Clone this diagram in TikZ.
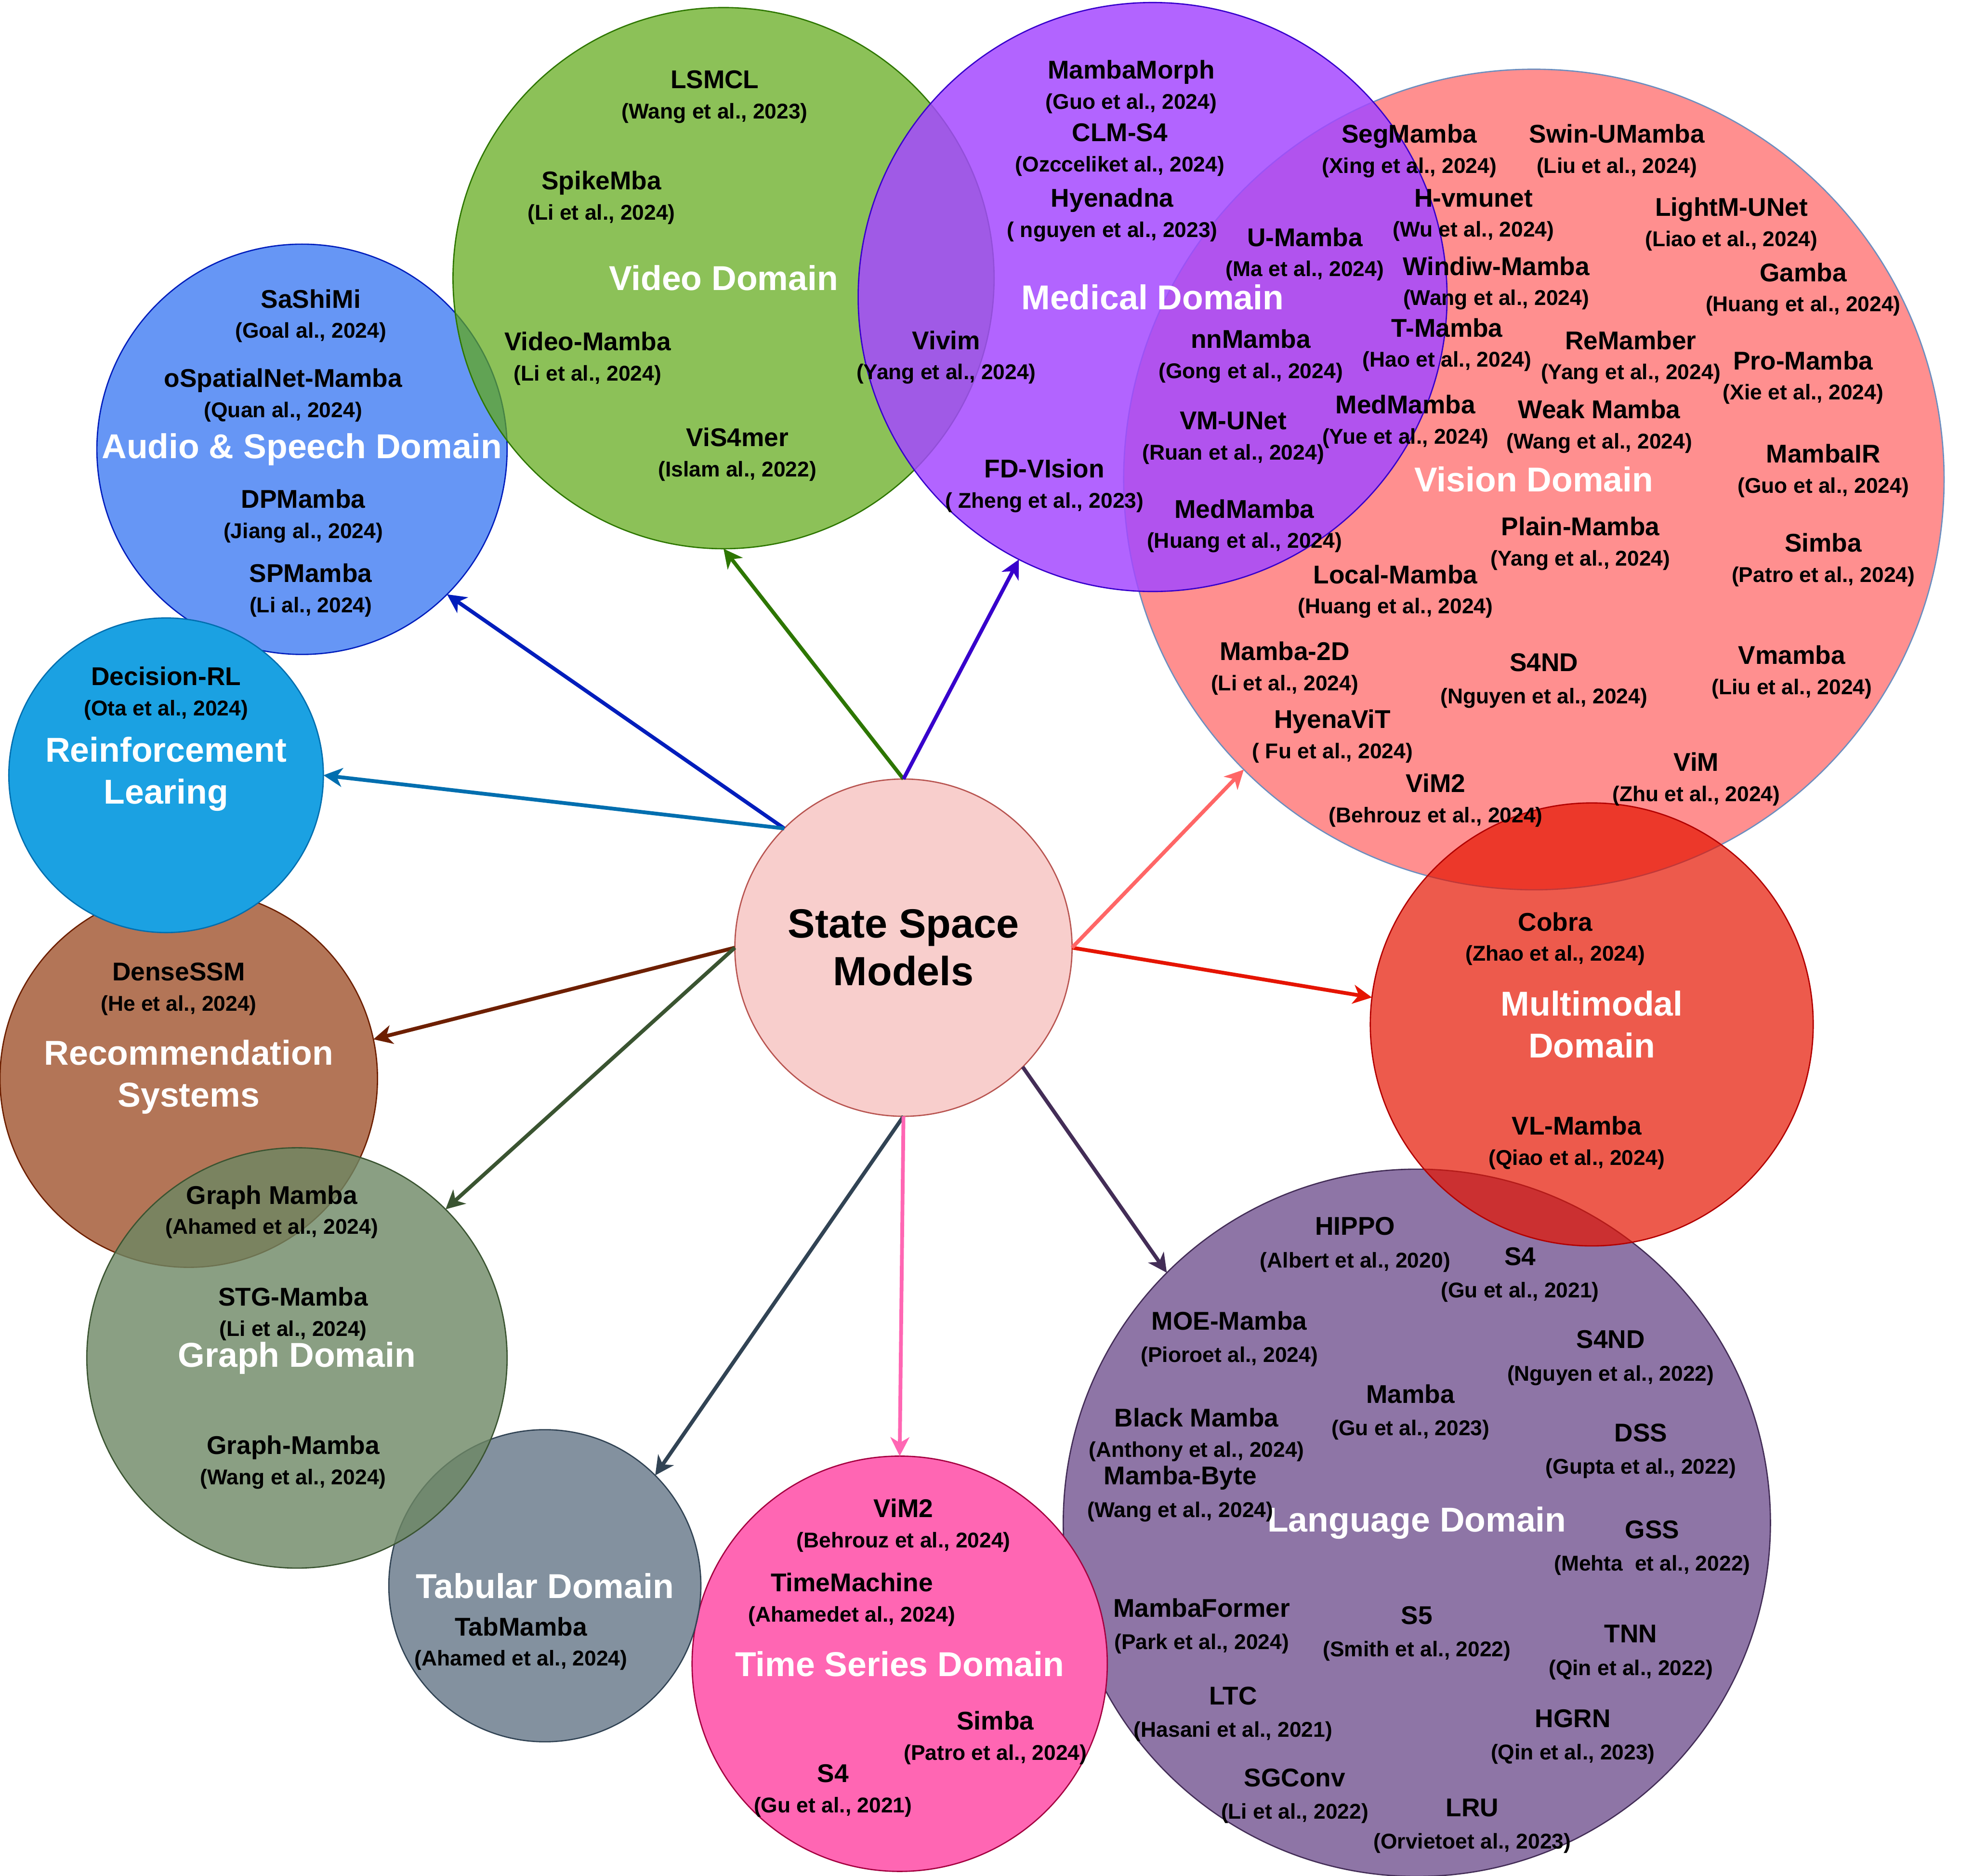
\documentclass[tikz,border=0pt]{standalone}
\usepackage{fontspec}
\setmainfont{Liberation Sans}
\usetikzlibrary{arrows.meta}
\definecolor{audiofill}{HTML}{0050EF}\definecolor{audioline}{HTML}{001DBC}
\definecolor{videofill}{HTML}{60A917}\definecolor{videoline}{HTML}{2D7600}
\definecolor{medfill}{HTML}{A449FF}\definecolor{medline}{HTML}{3700CC}
\definecolor{visfill}{HTML}{FF8F8F}\definecolor{visline}{HTML}{6C8EBF}\definecolor{visarrow}{HTML}{FF6666}
\definecolor{multifill}{HTML}{E51400}\definecolor{multiline}{HTML}{B20000}
\definecolor{langfill}{HTML}{8E75A6}\definecolor{langline}{HTML}{432D57}
\definecolor{tsfill}{HTML}{FF66B3}\definecolor{tsline}{HTML}{A50040}
\definecolor{tabfill}{HTML}{647687}\definecolor{tabline}{HTML}{314354}
\definecolor{graphfill}{HTML}{6D8764}\definecolor{graphline}{HTML}{3A5431}
\definecolor{recfill}{HTML}{A0522D}\definecolor{recline}{HTML}{6D1F00}
\definecolor{rlfill}{HTML}{1BA1E2}\definecolor{rlline}{HTML}{006EAF}
\definecolor{hubfill}{HTML}{F8CECC}\definecolor{hubline}{HTML}{B85450}
\newcommand{\ppname}{\fontsize{10.2}{12}\selectfont\bfseries}
\newcommand{\ppnamel}{\fontsize{10.2}{12.9}\selectfont\bfseries}
\newcommand{\ppcite}{\fontsize{8.5}{10}\selectfont\bfseries}
\newcommand{\domlbl}{\fontsize{13.7}{16.7}\selectfont\bfseries}
\newcommand{\hubfont}{\fontsize{16.2}{19}\selectfont\bfseries}
\newcommand{\ppitem}[2]{#1\\{\ppcite #2}}
\begin{document}
\begin{tikzpicture}[x=0.5pt, y=-0.5pt,
    dom/.style={circle, draw, line width=0.5pt, inner sep=0pt, outer sep=0pt, text=white, text opacity=1, font=\domlbl, align=center},
    ppr/.style={align=center, font=\ppname, inner sep=0pt, yshift=-1pt},
    lppr/.style={align=center, font=\ppnamel, inner sep=0pt, yshift=-1pt},
    link/.style={line width=1.5pt, -{Stealth[length=7.5pt, width=7.5pt, inset=2.2pt]}}]
    \useasboundingbox (0,0) rectangle (1568,1490.5);
    % domain circles, lowest first
    \node[dom, fill=recfill, fill opacity=0.8, draw=recline, minimum size=150pt] (rec) at (150,857) {Recommendation\\Systems\rule[-4pt]{0pt}{4pt}};
    \node[dom, fill=audiofill, fill opacity=0.6, draw=audioline, minimum size=163pt] (audio) at (240,357) {Audio \& Speech Domain};
    \node[dom, fill=rlfill, draw=rlline, minimum size=125pt] (rl) at (132,616) {Reinforcement\\Learing\rule[-4pt]{0pt}{4pt}};
    \node[dom, fill=videofill, fill opacity=0.72, draw=videoline, minimum size=215pt] (video) at (575,221) {Video Domain};
    \node[dom, fill=visfill, draw=visline, minimum size=326pt] (vision) at (1219,381) {Vision Domain};
    \node[dom, fill=medfill, fill opacity=0.85, draw=medline, minimum size=234pt] (medical) at (916,236) {Medical Domain};
    \node[dom, fill=langfill, draw=langline, minimum size=281pt] (language) at (1126,1210) {Language Domain};
    \node[dom, fill=multifill, fill opacity=0.7, draw=multiline, minimum size=176pt] (multi) at (1265,814) {Multimodal\\Domain};
    \node[dom, fill=tsfill, draw=tsline, minimum size=165pt] (tseries) at (715,1322) {Time Series Domain};
    \node[dom, fill=tabfill, fill opacity=0.8, draw=tabline, minimum size=124pt] (tabular) at (433,1260) {Tabular Domain};
    \node[dom, fill=graphfill, fill opacity=0.8, draw=graphline, minimum size=167pt] (graph) at (236,1079) {Graph Domain};
    \node[circle, draw=hubline, fill=hubfill, line width=0.5pt, inner sep=0pt, outer sep=0pt, minimum size=134pt, font=\hubfont, align=center] (ssm) at (718,753) {State Space\\Models};

    \draw[link, audioline] (ssm.135) -- (audio.-45);
    \draw[link, videoline] (ssm.north) -- (video.south);
    \draw[link, medline] (ssm.north) -- (medical.-117);
    \draw[link, rlline] (ssm.135) -- (rl.east);
    \draw[link, recline] (ssm.west) -- (rec.12);
    \draw[link, graphline] (ssm.west) -- (graph.45);
    \draw[link, tabline] (ssm.south) -- (tabular.45);
    \draw[link, tsfill] (ssm.south) -- (tseries.north);
    \draw[link, langline] (ssm.-45) -- (language.135);
    \draw[link, multifill] (ssm.east) -- (multi.173);
    \draw[link, visarrow] (ssm.east) -- (vision.225);

    % video
    \node[ppr] (v1) at (568,75) {\ppitem{LSMCL}{(Wang et al., 2023)}};
    \node[ppr] (v2) at (478,155) {\ppitem{SpikeMba}{(Li et al., 2024)}};
    \node[ppr] (v3) at (467,283) {\ppitem{Video-Mamba}{(Li et al., 2024)}};
    \node[ppr] (v4) at (586,359) {\ppitem{ViS4mer}{(Islam al., 2022)}};
    % medical
    \node[ppr] (m1) at (899,67) {\ppitem{MambaMorph}{(Guo et al., 2024)}};
    \node[ppr] (m2) at (890,117) {\ppitem{CLM-S4}{(Ozcceliket al., 2024)}};
    \node[ppr] (m3) at (884,169) {\ppitem{Hyenadna}{( nguyen et al., 2023)}};
    \node[ppr] (m4) at (752,282) {\ppitem{Vivim}{(Yang et al., 2024)}};
    \node[ppr] (m5) at (830,384) {\ppitem{FD-VIsion}{( Zheng et al., 2023)}};
    \node[ppr] (m6) at (989,416) {\ppitem{MedMamba}{(Huang et al., 2024)}};
    \node[ppr] (m7) at (1037,200) {\ppitem{U-Mamba}{(Ma et al., 2024)}};
    \node[ppr] (m8) at (994,281) {\ppitem{nnMamba}{(Gong et al., 2024)}};
    \node[ppr] (m9) at (980,346) {\ppitem{VM-UNet}{(Ruan et al., 2024)}};
    % vision
    \node[ppr] (s1) at (1120,118) {\ppitem{SegMamba}{(Xing et al., 2024)}};
    \node[ppr] (s2) at (1285,118) {\ppitem{Swin-UMamba}{(Liu et al., 2024)}};
    \node[ppr] (s3) at (1171,169) {\ppitem{H-vmunet}{(Wu et al., 2024)}};
    \node[ppr] (s4) at (1376,176) {\ppitem{LightM-UNet}{(Liao et al., 2024)}};
    \node[ppr] (s5) at (1189,223) {\ppitem{Windiw-Mamba}{(Wang et al., 2024)}};
    \node[ppr] (s6) at (1433,228) {\ppitem{Gamba}{(Huang et al., 2024)}};
    \node[ppr] (s7) at (1150,272) {\ppitem{T-Mamba}{(Hao et al., 2024)}};
    \node[ppr] (s8) at (1296,282) {\ppitem{ReMamber}{(Yang et al., 2024)}};
    \node[ppr] (s9) at (1433,298) {\ppitem{Pro-Mamba}{(Xie et al., 2024)}};
    \node[ppr] (s10) at (1117,333) {\ppitem{MedMamba}{(Yue et al., 2024)}};
    \node[ppr] (s11) at (1271,337) {\ppitem{Weak Mamba}{(Wang et al., 2024)}};
    \node[ppr] (s12) at (1449,372) {\ppitem{MambaIR}{(Guo et al., 2024)}};
    \node[ppr] (s13) at (1256,430) {\ppitem{Plain-Mamba}{(Yang et al., 2024)}};
    \node[ppr] (s14) at (1449,443) {\ppitem{Simba}{(Patro et al., 2024)}};
    \node[ppr] (s15) at (1109,468) {\ppitem{Local-Mamba}{(Huang et al., 2024)}};
    \node[ppr] (s16) at (1021,529) {\ppitem{Mamba-2D}{(Li et al., 2024)}};
    \node[lppr] (s17) at (1227,539) {\ppitem{S4ND}{(Nguyen et al., 2024)}};
    \node[ppr] (s18) at (1424,532) {\ppitem{Vmamba}{(Liu et al., 2024)}};
    \node[ppr] (s19) at (1059,583) {\ppitem{HyenaViT}{( Fu et al., 2024)}};
    \node[ppr] (s20) at (1141,634) {\ppitem{ViM2}{(Behrouz et al., 2024)}};
    \node[ppr] (s21) at (1348,617) {\ppitem{ViM}{(Zhu et al., 2024)}};
    % multimodal
    \node[ppr] (x1) at (1236,744) {\ppitem{Cobra}{(Zhao et al., 2024)}};
    \node[ppr] (x2) at (1253,906) {\ppitem{VL-Mamba}{(Qiao et al., 2024)}};
    % language
    \node[lppr] (l1) at (1077,987) {\ppitem{HIPPO}{(Albert et al., 2020)}};
    \node[lppr] (l2) at (1208,1011) {\ppitem{S4}{(Gu et al., 2021)}};
    \node[lppr] (l3) at (977,1062) {\ppitem{MOE-Mamba}{(Pioroet al., 2024)}};
    \node[lppr] (l4) at (1280,1077) {\ppitem{S4ND}{(Nguyen et al., 2022)}};
    \node[lppr] (l5) at (1121,1120) {\ppitem{Mamba}{(Gu et al., 2023)}};
    \node[ppr] (l6) at (951,1138) {\ppitem{Black Mamba}{(Anthony et al., 2024)}};
    \node[lppr] (l7) at (1304,1151) {\ppitem{DSS}{(Gupta et al., 2022)}};
    \node[lppr] (l8) at (938,1185) {\ppitem{Mamba-Byte}{(Wang et al., 2024)}};
    \node[lppr] (l9) at (1313,1228) {\ppitem{GSS}{(Mehta~ et al., 2022)}};
    \node[lppr] (l10) at (955,1290) {\ppitem{MambaFormer}{(Park et al., 2024)}};
    \node[lppr] (l11) at (1126,1296) {\ppitem{S5}{(Smith et al., 2022)}};
    \node[lppr] (l12) at (1296,1311) {\ppitem{TNN}{(Qin et al., 2022)}};
    \node[lppr] (l13) at (980,1360) {\ppitem{LTC}{(Hasani et al., 2021)}};
    \node[lppr] (l14) at (1250,1378) {\ppitem{HGRN}{(Qin et al., 2023)}};
    \node[lppr] (l15) at (1029,1425) {\ppitem{SGConv}{(Li et al., 2022)}};
    \node[lppr] (l16) at (1170,1449) {\ppitem{LRU}{(Orvietoet al., 2023)}};
    % time series
    \node[ppr] (t1) at (718,1210) {\ppitem{ViM2}{(Behrouz et al., 2024)}};
    \node[ppr] (t2) at (677,1269) {\ppitem{TimeMachine}{(Ahamedet al., 2024)}};
    \node[ppr] (t3) at (791,1379) {\ppitem{Simba}{(Patro et al., 2024)}};
    \node[ppr] (t4) at (662,1421) {\ppitem{S4}{(Gu et al., 2021)}};
    % tabular, graph, recommendation, rl, audio
    \node[ppr] (b1) at (414,1304) {\ppitem{TabMamba}{(Ahamed et al., 2024)}};
    \node[ppr] (g1) at (216,961) {\ppitem{Graph Mamba}{(Ahamed et al., 2024)}};
    \node[ppr] (g2) at (233,1042) {\ppitem{STG-Mamba}{(Li et al., 2024)}};
    \node[ppr] (g3) at (233,1160) {\ppitem{Graph-Mamba}{(Wang et al., 2024)}};
    \node[ppr] (r1) at (142,784) {\ppitem{DenseSSM}{(He et al., 2024)}};
    \node[ppr] (q1) at (132,549) {\ppitem{Decision-RL}{(Ota et al., 2024)}};
    \node[ppr] (a1) at (247,249) {\ppitem{SaShiMi}{(Goal al., 2024)}};
    \node[ppr] (a2) at (225,312) {\ppitem{oSpatialNet-Mamba}{(Quan al., 2024)}};
    \node[ppr] (a3) at (241,408) {\ppitem{DPMamba}{(Jiang al., 2024)}};
    \node[ppr] (a4) at (247,467) {\ppitem{SPMamba}{(Li al., 2024)}};
\end{tikzpicture}
\end{document}
